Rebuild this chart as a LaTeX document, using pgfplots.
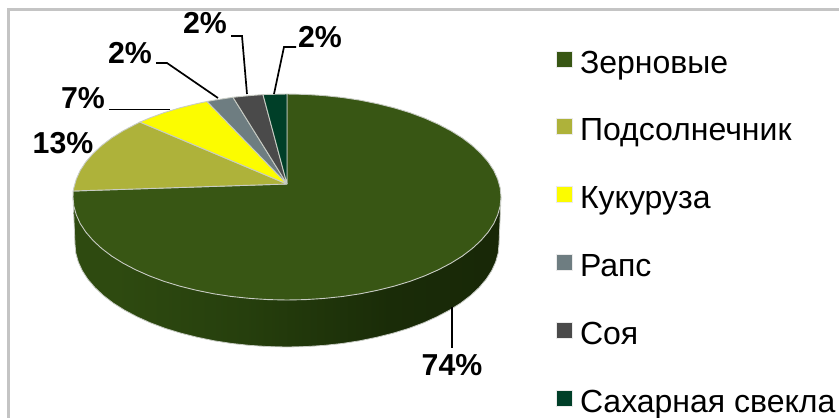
\documentclass[border=0pt]{standalone}
\usepackage{pgfplots}
\pgfplotsset{compat=1.18}
\usepackage{fontspec}
\setmainfont{Liberation Sans}
\definecolor{cgrain}{HTML}{385614}
\definecolor{csun}{HTML}{AEB23A}
\definecolor{ccorn}{HTML}{FCFC00}
\definecolor{crape}{HTML}{6E7D81}
\definecolor{csoy}{HTML}{4A4A4A}
\definecolor{cbeet}{HTML}{003F28}
\definecolor{cedge}{HTML}{C8CCC4}
\definecolor{sa}{HTML}{2E4A10}
\definecolor{sb}{HTML}{263F0D}
\definecolor{sc}{HTML}{1A2C08}
\definecolor{sd}{HTML}{152206}
\definecolor{se}{HTML}{1A2A08}
\pgfdeclarehorizontalshading{pieside}{100bp}{
  color(0bp)=(sa);
  color(30bp)=(sa);
  color(45bp)=(sb);
  color(62bp)=(sc);
  color(90bp)=(sd);
  color(100bp)=(se)}
\begin{document}
\begin{tikzpicture}
\useasboundingbox (0,0) rectangle (839pt,418pt);
\begin{axis}[
  at={(0,0)}, anchor=south west,
  scale only axis, width=839pt, height=418pt,
  xmin=0, xmax=839, ymin=0, ymax=418, y dir=reverse,
  axis lines=none, clip=false,
  legend style={at={(axis cs:556,50.5)}, anchor=north west, draw=none, fill=none,
    inner sep=0pt, outer sep=0pt, row sep=39.3pt,
    font=\fontsize{32}{32}\selectfont,
    /tikz/every odd column/.style={column sep=7pt},
    nodes={text height=22pt, text depth=6pt, inner sep=0pt}},
  legend cell align=left,
  legend image code/.code={
    \draw[#1, draw=black!8, line width=1pt] (0pt,-2pt) rectangle (16pt,14pt);
  },
]
% frame
\addplot[forget plot, draw=black!23, line width=3pt] coordinates {(839,9.5)(8,9.5)(8,418)};
% side wall
\addplot[forget plot, shade, shading=pieside, draw=cedge, line width=0.8pt] coordinates {
(501,197)(499,244)(498.2,253)(495.7,261.9)(491.7,270.7)(486.2,279.2)(479.1,287.5)(470.6,295.5)(460.7,303.1)(449.4,310.2)(436.9,316.8)(423.4,322.9)(408.7,328.4)(393,333.2)(376.6,337.3)(359.6,340.8)(342,343.5)(324,345.4)(305.5,346.6)(287,347)(268.5,346.6)(250,345.4)(232,343.5)(214.4,340.8)(197.4,337.3)(181,333.2)(165.3,328.4)(150.6,322.9)(137.1,316.8)(124.6,310.2)(113.3,303.1)(103.4,295.5)(94.9,287.5)(87.8,279.2)(82.3,270.7)(78.3,261.9)(75.8,253)(75,244)(73,197)};
% wedges
\addplot[fill=cgrain, draw=cedge, line width=0.9pt] coordinates {
(287,184)(287,94)(305.7,94.4)(324.2,95.6)(342.4,97.5)(360.2,100.2)(377.4,103.7)(394,107.8)(409.8,112.6)(424.6,118.1)(438.3,124.2)(450.9,130.8)(462.3,137.9)(472.3,145.5)(480.9,153.5)(488.1,161.8)(493.7,170.3)(497.7,179.1)(500.2,188)(501,197)(500.2,206)(497.7,214.9)(493.7,223.7)(488.1,232.2)(480.9,240.5)(472.3,248.5)(462.3,256.1)(450.9,263.2)(438.3,269.8)(424.6,275.9)(409.8,281.4)(394,286.2)(377.4,290.3)(360.2,293.8)(342.4,296.5)(324.2,298.4)(305.7,299.6)(287,300)(268.3,299.6)(249.8,298.4)(231.6,296.5)(213.8,293.8)(196.6,290.3)(180,286.2)(164.2,281.4)(149.4,275.9)(135.7,269.8)(123.1,263.2)(111.7,256.1)(101.7,248.5)(93.1,240.5)(85.9,232.2)(80.3,223.7)(76.3,214.9)(73.8,206)(73,197)(73.2,191)(287,184)};
\addlegendentry{Зерновые}
\addplot[fill=csun, draw=cedge, line width=0.9pt] coordinates {
(287,184)(73.2,191)(73.8,188)(76.3,179.1)(80.3,170.3)(85.9,161.8)(93.1,153.5)(101.7,145.5)(111.7,137.9)(123.1,130.8)(135.7,124.2)(140,122.1)(287,184)};
\addlegendentry{Подсолнечник}
\addplot[fill=ccorn, draw=cedge, line width=0.9pt] coordinates {
(287,184)(140,122.1)(149.4,118.1)(164.2,112.6)(180,107.8)(196.6,103.7)(207,101.5)(287,184)};
\addlegendentry{Кукуруза}
\addplot[fill=crape, draw=cedge, line width=0.9pt] coordinates {
(287,184)(207,101.5)(213.8,100.2)(233,97.3)(287,184)};
\addlegendentry{Рапс}
\addplot[fill=csoy, draw=cedge, line width=0.9pt] coordinates {
(287,184)(233,97.3)(249.8,95.6)(263,94.6)(287,184)};
\addlegendentry{Соя}
\addplot[fill=cbeet, draw=cedge, line width=0.9pt] coordinates {
(287,184)(263,94.6)(268.3,94.4)(287,94)(287,184)};
\addlegendentry{Сахарная свекла}
% leaders
\addplot[forget plot, black, line width=1.7pt] coordinates {(109,109.5)(170,109.5)};
\addplot[forget plot, black, line width=1.7pt] coordinates {(156,63)(167,63)(218,98)};
\addplot[forget plot, black, line width=1.7pt] coordinates {(231,36)(242,36)(247,94)};
\addplot[forget plot, black, line width=1.7pt] coordinates {(296,47)(284,47)(274,94)};
\addplot[forget plot, black, line width=1.7pt] coordinates {(452,307)(452,348)};
% labels
\begin{scope}[every node/.style={font=\fontsize{30.3}{30.3}\selectfont\bfseries, inner sep=0pt}]
\node at (axis cs:452,365) {74\%};
\node at (axis cs:63,143) {13\%};
\node at (axis cs:83,98) {7\%};
\node at (axis cs:130,53) {2\%};
\node at (axis cs:205,23) {2\%};
\node at (axis cs:320,37) {2\%};
\end{scope}
\end{axis}
\end{tikzpicture}
\end{document}
